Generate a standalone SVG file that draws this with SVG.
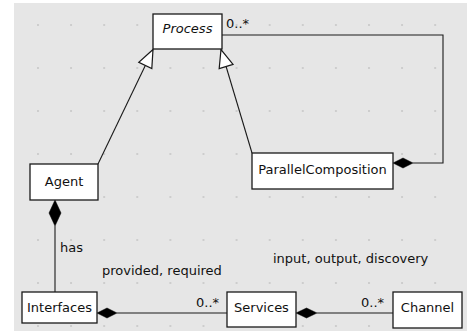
<svg xmlns="http://www.w3.org/2000/svg" width="467" height="333" viewBox="0 0 467 333">
<style>
.box{fill:#fff;stroke:#1a1a1a;stroke-width:1.3}
.lbl{font-family:"DejaVu Sans",sans-serif;font-size:13px;fill:#111}
.c{text-anchor:middle}
.ln{fill:none;stroke:#1a1a1a;stroke-width:1.1}
.dia{fill:#000;stroke:#000;stroke-width:0.5}
</style>
<defs>
<pattern id="grid" patternUnits="userSpaceOnUse" x="37" y="24" width="33.1" height="43">
<rect x="0" y="0" width="2" height="2" fill="#cdcdcd"/>
</pattern>
<marker id="gen" markerUnits="userSpaceOnUse" markerWidth="20" markerHeight="20" viewBox="-17 -8 18 16" refX="0" refY="0" orient="auto">
<path d="M0,0 L-16,-6.5 L-16,6.5 Z" fill="#fff" stroke="#1a1a1a" stroke-width="1.1"/>
</marker>
</defs>
<rect x="0" y="0" width="467" height="333" fill="#fff"/>
<rect x="14" y="3" width="453" height="328" fill="#e6e6e6"/>
<rect x="14" y="3" width="453" height="328" fill="url(#grid)"/>
<g id="connectors">
<line class="ln" x1="98" y1="164" x2="153" y2="49.5" marker-end="url(#gen)"/>
<line class="ln" x1="252" y1="153" x2="221" y2="49.5" marker-end="url(#gen)"/>
<polyline class="ln" points="222,35 443,35 443,163 413,163"/>
<polygon class="dia" points="393,163 403,158 413,163 403,168"/>
<text class="lbl" x="226" y="28">0..*</text>
<line class="ln" x1="55" y1="226" x2="55" y2="292"/>
<polygon class="dia" points="55,200 61,213 55,226 49,213"/>
<text class="lbl" x="60" y="252">has</text>
<line class="ln" x1="117" y1="313" x2="227" y2="313"/>
<polygon class="dia" points="97,313 107,308 117,313 107,318"/>
<text class="lbl" x="196" y="307">0..*</text>
<text class="lbl" x="102" y="275">provided, required</text>
<line class="ln" x1="317" y1="313" x2="393" y2="313"/>
<polygon class="dia" points="296,313 306.5,308 317,313 306.5,318"/>
<text class="lbl" x="361" y="307">0..*</text>
<text class="lbl" x="273" y="263">input, output, discovery</text>
</g>
<g id="process">
<rect class="box" x="153" y="14" width="69" height="35"/>
<text class="lbl c" x="187.5" y="33" font-style="italic">Process</text>
</g>
<g id="agent">
<rect class="box" x="30" y="164" width="68" height="36"/>
<text class="lbl c" x="64" y="186">Agent</text>
</g>
<g id="parallelcomposition">
<rect class="box" x="252" y="153" width="141" height="36"/>
<text class="lbl c" x="322.5" y="174">ParallelComposition</text>
</g>
<g id="interfaces">
<rect class="box" x="22" y="292" width="75" height="31"/>
<text class="lbl c" x="59.5" y="312">Interfaces</text>
</g>
<g id="services">
<rect class="box" x="227" y="292" width="69" height="35"/>
<text class="lbl c" x="261.5" y="312">Services</text>
</g>
<g id="channel">
<rect class="box" x="393" y="292" width="69" height="36"/>
<text class="lbl c" x="427.5" y="312">Channel</text>
</g>
</svg>
